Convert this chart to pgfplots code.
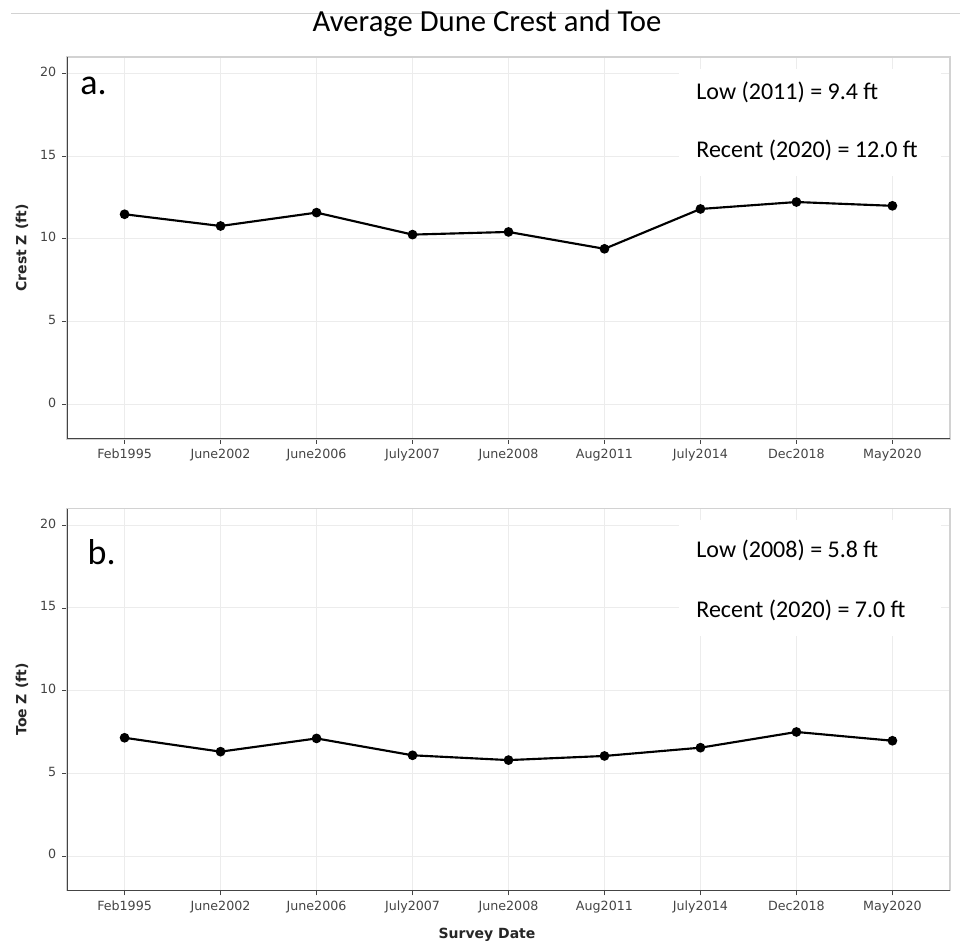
\documentclass[border=0pt]{standalone}
\usepackage{fontspec}
\setmainfont{DejaVu Sans}
\newfontfamily\calfont{Carlito}
\usepackage{pgfplots}
\usepackage{pgfplotstable}
\pgfplotsset{compat=1.18}
\definecolor{darkax}{HTML}{444444}
\definecolor{lightbd}{HTML}{D2D2D2}
\definecolor{gridc}{HTML}{ECECEC}

\pgfplotstableread{
x y
0 11.49
1 10.78
2 11.59
3 10.26
4 10.42
5 9.4
6 11.81
7 12.23
8 12.0
}\crest
\pgfplotstableread{
x y
0 7.15
1 6.31
2 7.11
3 6.09
4 5.8
5 6.05
6 6.55
7 7.5
8 6.97
}\toe

\pgfplotsset{
  dunestyle/.style={
    scale only axis,
    width=662.25pt, height=286.5pt,
    anchor=south west,
    xmin=-0.6, xmax=8.6,
    ymin=-2.1, ymax=21,
    xtick={0,...,8},
    xticklabels={Feb1995,June2002,June2006,July2007,June2008,Aug2011,July2014,Dec2018,May2020},
    ytick={0,5,10,15,20},
    xtick pos=lower, ytick pos=left,
    tick align=outside,
    major tick length=3.5pt,
    tick style={darkax, line width=0.6pt},
    grid=major,
    major grid style={gridc, line width=0.75pt},
    axis line style={lightbd, line width=0.9pt},
    /pgf/number format/assume math mode=true,
    typeset ticklabels with strut,
    ticklabel style={font=\fontsize{9.5}{11}\selectfont, text=darkax},
    xticklabel style={yshift=0pt},
    yticklabel style={xshift=-1pt},
  },
  duneline/.style={black, line width=1.6pt, mark=*, mark size=2.8pt, mark options={fill=black, solid}},
}

\begin{document}
\begin{tikzpicture}
\useasboundingbox (0,0) rectangle (720pt,707.25pt);
\draw[lightbd, line width=0.75pt] (8.25pt,696.75pt) -- (720pt,696.75pt);
\node[anchor=base, font=\calfont\fontsize{23}{27}\selectfont] at (365.25pt,683.25pt) {Average Dune Crest and Toe};

% top panel
\begin{axis}[dunestyle, at={(50.25pt,378pt)}]
  \fill[white] (axis cs:5.78,20.3) rectangle (axis cs:8.51,13.8);
  \addplot[duneline] table[x=x,y=y] {\crest};
  \draw[darkax, line width=1.5pt] (rel axis cs:0,1) -- (rel axis cs:0,0) -- (rel axis cs:1,0);
  \node[anchor=base west, inner sep=0pt, font=\calfont\fontsize{18}{21}\selectfont] at (axis cs:5.955,18.44) {Low (2011) = 9.4 ft};
  \node[anchor=base west, inner sep=0pt, font=\calfont\fontsize{18}{21}\selectfont] at (axis cs:5.955,14.93) {Recent (2020) = 12.0 ft};
\end{axis}

% bottom panel
\begin{axis}[dunestyle, at={(50.25pt,39.2pt)}]
  \fill[white] (axis cs:5.78,20.3) rectangle (axis cs:8.51,13.3);
  \addplot[duneline] table[x=x,y=y] {\toe};
  \draw[darkax, line width=1.5pt] (rel axis cs:0,1) -- (rel axis cs:0,0) -- (rel axis cs:1,0);
  \node[anchor=base west, inner sep=0pt, font=\calfont\fontsize{18}{21}\selectfont] at (axis cs:5.955,18.08) {Low (2008) = 5.8 ft};
  \node[anchor=base west, inner sep=0pt, font=\calfont\fontsize{18}{21}\selectfont] at (axis cs:5.955,14.45) {Recent (2020) = 7.0 ft};
\end{axis}

\node[anchor=base west, inner sep=0pt, font=\calfont\fontsize{27}{30}\selectfont] at (60pt,636pt) {a.};
\node[anchor=base west, inner sep=0pt, font=\calfont\fontsize{27}{30}\selectfont] at (65.5pt,283.5pt) {b.};

\node[rotate=90, font=\bfseries\fontsize{10.5}{12}\selectfont, text=black!85] at (16.5pt,521.25pt) {Crest Z (ft)};
\node[rotate=90, font=\bfseries\fontsize{10.5}{12}\selectfont, text=black!85] at (16.5pt,182.6pt) {Toe Z (ft)};
\node[anchor=base, font=\bfseries\fontsize{10.5}{12}\selectfont, text=black!85] at (365.25pt,3.75pt) {Survey Date};
\end{tikzpicture}
\end{document}
